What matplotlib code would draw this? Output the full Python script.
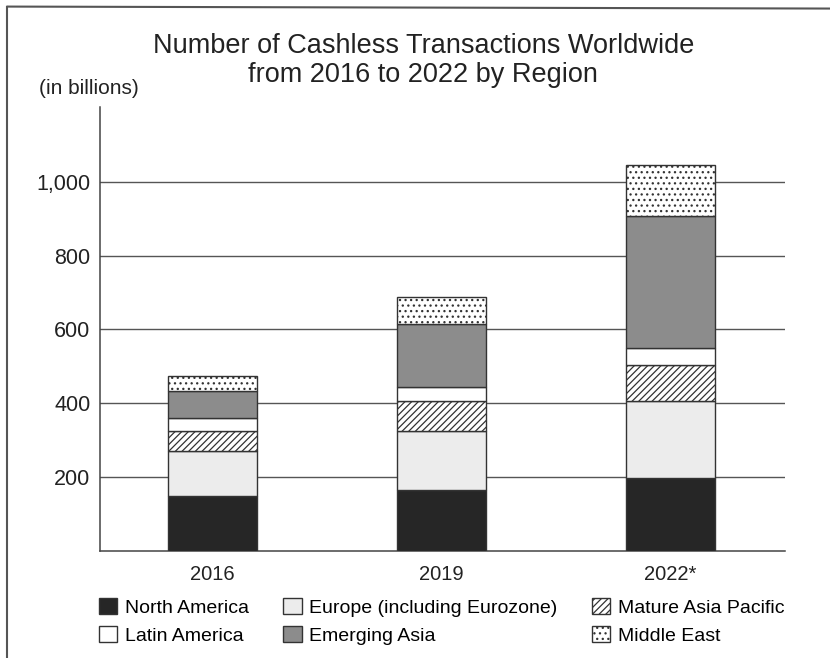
import matplotlib.pyplot as plt
from matplotlib.patches import Patch
from matplotlib.lines import Line2D

plt.rcParams['font.family'] = ['Liberation Sans', 'DejaVu Sans']
plt.rcParams['hatch.linewidth'] = 0.9

years = ['2016', '2019', '2022*']
regions = ['North America', 'Europe (including Eurozone)', 'Mature Asia Pacific',
           'Latin America', 'Emerging Asia', 'Middle East']
north_america = [148, 166, 199]
europe = [124, 160, 208]
mature_asia = [54, 79, 96]
latin_america = [35, 40, 48]
emerging_asia = [73, 169, 357]
middle_east = [41, 75, 138]

series = [north_america, europe, mature_asia, latin_america, emerging_asia, middle_east]
colors = ['#262626', '#ececec', 'white', 'white', '#8c8c8c', 'white']
hatches = [None, None, '/////', None, None, '...']

fig = plt.figure(figsize=(8.3, 6.58), dpi=100)
ax = fig.add_axes([0.1205, 0.1626, 0.825, 0.675])

x = range(len(years))
bottom = [0, 0, 0]
for vals, c, h in zip(series, colors, hatches):
    ax.bar(x, vals, 0.39, bottom=bottom, color=c, hatch=h,
           edgecolor='#333333', linewidth=1, zorder=3)
    bottom = [b + v for b, v in zip(bottom, vals)]

ax.set_xlim(-0.49, 2.5)
ax.set_ylim(0, 1203)
ax.set_yticks([200, 400, 600, 800, 1000])
ax.set_yticklabels(['200', '400', '600', '800', '1,000'], fontsize=15.5, color='#222')
ax.set_xticks(list(x))
ax.set_xticklabels(years, fontsize=14.5, color='#222')
ax.tick_params(length=0, pad=7)
ax.tick_params(axis='x', pad=10)
ax.grid(axis='y', color='#555555', linewidth=1, zorder=0)
for s in ['top', 'right']:
    ax.spines[s].set_visible(False)
for s in ['left', 'bottom']:
    ax.spines[s].set_color('#444444')
    ax.spines[s].set_linewidth(1.1)

fig.text(0.51, 0.908, 'Number of Cashless Transactions Worldwide\nfrom 2016 to 2022 by Region',
         ha='center', va='center', fontsize=19.5, color='#222', linespacing=1.12)
fig.text(0.047, 0.866, '(in billions)', fontsize=15, color='#222', va='center')

order = [0, 3, 1, 4, 2, 5]
handles = [Patch(facecolor=colors[i], hatch=hatches[i], edgecolor='#333333',
                 label=regions[i]) for i in order]
fig.legend(handles=handles, ncol=3, loc='center left', bbox_to_anchor=(0.098, 0.056),
           frameon=False, fontsize=14, handlelength=0.95, handleheight=0.95,
           handletextpad=0.4, columnspacing=1.75, labelspacing=0.45)

# scan frame edges
fig.add_artist(Line2D([0.009, 0.009], [0, 0.99], color='#555', linewidth=1.5))
fig.add_artist(Line2D([0.009, 1.0], [0.99, 0.987], color='#555', linewidth=1.5))

fig.savefig('out.png', dpi=100)
